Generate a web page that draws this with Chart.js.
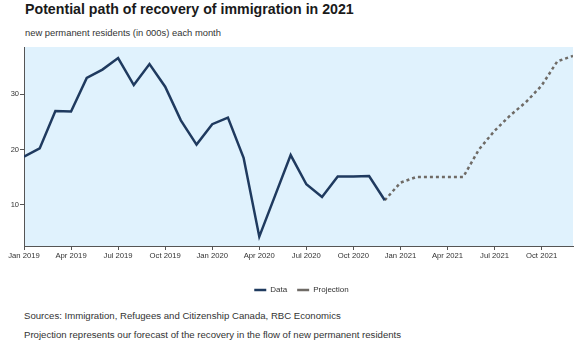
<!DOCTYPE html>
<html>
<head>
<meta charset="utf-8">
<script src="https://cdn.jsdelivr.net/npm/chart.js@4.4.1/dist/chart.umd.min.js"></script>
<style>
  body { margin: 0; width: 585px; height: 352px; background: #fff; position: relative; overflow: hidden; font-family: "Liberation Sans", Arial, sans-serif; color: #222; }
  .title { position: absolute; left: 25px; top: 1px; font-size: 14.2px; font-weight: bold; color: #1a1a1a; }
  .subtitle { position: absolute; left: 25px; top: 27px; font-size: 9.4px; color: #333; }
  .note { position: absolute; left: 24px; font-size: 9.6px; color: #333; }
  canvas { position: absolute; left: 0; top: 0; }
</style>
</head>
<body>
<div class="title">Potential path of recovery of immigration in 2021</div>
<div class="subtitle">new permanent residents (in 000s) each month</div>
<div class="canvas-container"><canvas id="line_chart" width="585" height="304"></canvas></div>
<div class="note" style="top:310px">Sources: Immigration, Refugees and Citizenship Canada, RBC Economics</div>
<div class="note" style="top:329px">Projection represents our forecast of the recovery in the flow of new permanent residents</div>

<script>
// months since Jan 2019
const tickMonths = [0, 3, 6, 9, 12, 15, 18, 21, 24, 27, 30, 33];
const tickLabels = ["Jan 2019", "Apr 2019", "Jul 2019", "Oct 2019", "Jan 2020", "Apr 2020",
  "Jul 2020", "Oct 2020", "Jan 2021", "Apr 2021", "Jul 2021", "Oct 2021"];
const yTicks = [10, 20, 30];

// Jan 2019 - Dec 2020
const dataValues = [18.7, 20.2, 27.0, 26.9, 33.0, 34.5, 36.6, 31.7, 35.5, 31.4, 25.3, 20.9,
  24.6, 25.8, 18.5, 4.2, 11.6, 19.0, 13.7, 11.4, 15.1, 15.1, 15.2, 10.8];
// Dec 2020 - Dec 2021
const projectionStart = 23;
const projectionValues = [10.8, 14.0, 15.0, 15.0, 15.0, 15.0, 20.0, 23.4, 26.2, 28.6, 31.6, 36.0, 37.0];

const plotBg = {
  id: "plotBg",
  beforeDraw(chart) {
    const { ctx, chartArea: a } = chart;
    ctx.save();
    ctx.fillStyle = "#e0f2fd";
    ctx.fillRect(a.left, a.top, a.right - a.left, a.bottom - a.top);
    ctx.restore();
  },
};

// legend sits a little right of the page centre
const legendShift = {
  id: "legendShift",
  afterLayout(chart) {
    chart.legend.left += 30;
  },
};

const ctx = document.getElementById("line_chart").getContext("2d");

let configuration = {
  type: "line",
  data: {
    datasets: [
      {
        label: "Data",
        data: dataValues.map((v, i) => ({ x: i, y: v })),
        borderColor: "#1f3a5f",
        borderWidth: 2.5,
        pointRadius: 0,
        tension: 0,
      },
      {
        label: "Projection",
        data: projectionValues.map((v, i) => ({ x: projectionStart + i, y: v })),
        borderColor: "#6f6b66",
        borderWidth: 2.5,
        borderDash: [3, 3],
        pointRadius: 0,
        tension: 0,
      },
    ],
  },
  options: {
    responsive: false,
    animation: false,
    layout: { padding: { top: 47, right: 12, left: 0, bottom: 0 } },
    plugins: {
      tooltip: { enabled: false },
      legend: {
        position: "bottom",
        labels: {
          usePointStyle: true,
          pointStyle: "line",
          pointStyleWidth: 12,
          boxHeight: 8,
          padding: 10,
          color: "#333",
          font: { family: "Liberation Sans", size: 8 },
        },
      },
    },
    scales: {
      x: {
        type: "linear",
        min: 0,
        max: 35,
        afterBuildTicks: (scale) => {
          scale.ticks = tickMonths.map((m) => ({ value: m }));
        },
        afterFit: (scale) => {
          scale.height = 30;
        },
        ticks: {
          callback: (v) => tickLabels[tickMonths.indexOf(v)],
          maxRotation: 0,
          autoSkip: false,
          padding: 1,
          color: "#333",
          font: { family: "Liberation Sans", size: 7.7 },
        },
        grid: { drawOnChartArea: false, tickLength: 4, color: "#555" },
        border: { color: "#555", width: 1 },
      },
      y: {
        min: 2.5,
        max: 38.6,
        afterBuildTicks: (scale) => {
          scale.ticks = yTicks.map((v) => ({ value: v }));
        },
        afterFit: (scale) => {
          scale.width = 24;
        },
        ticks: {
          padding: 1,
          color: "#333",
          font: { family: "Liberation Sans", size: 7.5 },
        },
        grid: { drawOnChartArea: false, tickLength: 4, color: "#555" },
        border: { color: "#555", width: 1 },
      },
    },
  },
  plugins: [plotBg, legendShift],
};

new Chart(ctx, configuration);
</script>
</body>
</html>
